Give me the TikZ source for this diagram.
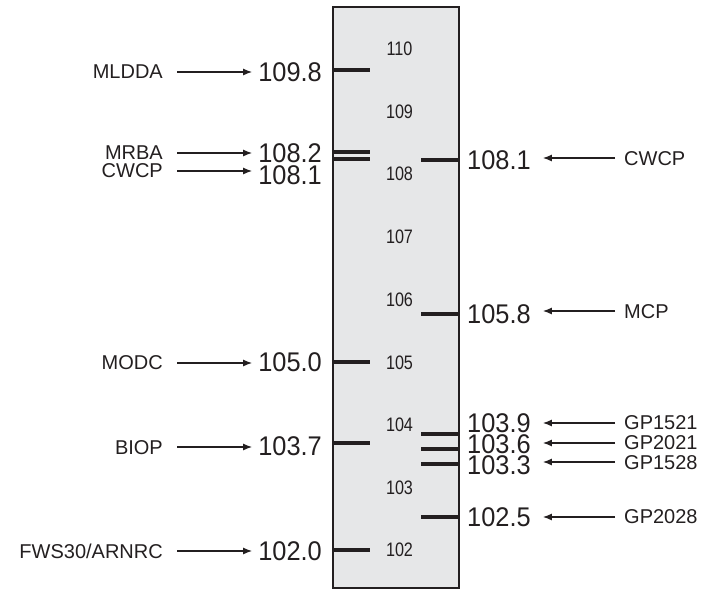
\documentclass[tikz,border=0pt]{standalone}
\usepackage{fontspec}
\usepackage{graphicx}
\setmainfont{Liberation Sans}
\usetikzlibrary{arrows.meta}
\definecolor{boxgray}{HTML}{E6E7E8}
\definecolor{ink}{HTML}{231F20}
\tikzset{
  txt/.style={inner sep=0pt, text depth=0pt, text=ink},
  lbl/.style={txt, font=\fontsize{20}{22}\selectfont},
  val/.style={txt, font=\fontsize{27}{29}\selectfont},
  scl/.style={txt, font=\fontsize{19.5}{21}\selectfont},
  tickln/.style={line width=3.4pt, draw=ink},
  arr/.style={-{Latex[length=9pt,width=7pt]}, line width=1.2pt, draw=ink},
}
\newcommand{\nv}[1]{\scalebox{0.94}[1]{#1}}
\newcommand{\ns}[1]{\scalebox{0.83}[1]{#1}}
\begin{document}
\begin{tikzpicture}[x=1pt,y=-1pt]
\useasboundingbox (0,0) rectangle (702,590);
% column
\draw[fill=boxgray, draw=ink, line width=1.5pt] (333,7) rectangle (459,588);
% scale labels
\node[scl] (s110) at (399.5,49) {\ns{110}};
\node[scl] (s109) at (399.5,112) {\ns{109}};
\node[scl] (s108) at (399.5,174) {\ns{108}};
\node[scl] (s107) at (399.5,237) {\ns{107}};
\node[scl] (s106) at (399.5,300) {\ns{106}};
\node[scl] (s105) at (399.5,363) {\ns{105}};
\node[scl] (s104) at (399.5,425) {\ns{104}};
\node[scl] (s103) at (399.5,488) {\ns{103}};
\node[scl] (s102) at (399.5,550) {\ns{102}};
% left ticks
\foreach \y in {70,152,159,362,443,550} \draw[tickln] (333,\y) -- (370,\y);
% right ticks
\foreach \y in {160,314,434,449,464,517} \draw[tickln] (421,\y) -- (459,\y);
% left labels
\node[lbl, anchor=east] (nMLDDA) at (163,72) {MLDDA};
\node[val, anchor=east] (vMLDDA) at (322,72) {\nv{109.8}};
\node[lbl, anchor=east] (nMRBA) at (163,153) {MRBA};
\node[val, anchor=east] (vMRBA) at (322,153) {\nv{108.2}};
\node[lbl, anchor=east] (nCWCPl) at (163,171) {CWCP};
\node[val, anchor=east] (vCWCPl) at (322,175) {\nv{108.1}};
\node[lbl, anchor=east] (nMODC) at (163,363) {MODC};
\node[val, anchor=east] (vMODC) at (322,362) {\nv{105.0}};
\node[lbl, anchor=east] (nBIOP) at (163,448) {BIOP};
\node[val, anchor=east] (vBIOP) at (322,446) {\nv{103.7}};
\node[lbl, anchor=east] (nFWS) at (163,551) {FWS30/ARNRC};
\node[val, anchor=east] (vFWS) at (322,551) {\nv{102.0}};
% left arrows
\foreach \n/\y in {MLDDA/72,MRBA/153,CWCPl/171,MODC/363,BIOP/447,FWS/551}
  \draw[arr] ([xshift=14pt]n\n.east |- 0,\y) -- ([xshift=-6pt]v\n.west |- 0,\y);
% right labels
\node[val, anchor=west] (vCWCPr) at (467,160) {\nv{108.1}};
\node[lbl, anchor=west] (nCWCPr) at (624,159) {CWCP};
\node[val, anchor=west] (vMCP) at (467,314) {\nv{105.8}};
\node[lbl, anchor=west] (nMCP) at (624,312) {MCP};
\node[val, anchor=west] (vGPa) at (467,423) {\nv{103.9}};
\node[lbl, anchor=west] (nGPa) at (624,423) {GP1521};
\node[val, anchor=west] (vGPb) at (467,444) {\nv{103.6}};
\node[lbl, anchor=west] (nGPb) at (624,443) {GP2021};
\node[val, anchor=west] (vGPc) at (467,465) {\nv{103.3}};
\node[lbl, anchor=west] (nGPc) at (624,463) {GP1528};
\node[val, anchor=west] (vGPd) at (467,517) {\nv{102.5}};
\node[lbl, anchor=west] (nGPd) at (624,517) {GP2028};
% right arrows
\foreach \n/\y in {CWCPr/158,MCP/311,GPa/423,GPb/443,GPc/462,GPd/517}
  \draw[arr] ([xshift=-9pt]n\n.west |- 0,\y) -- ([xshift=12pt]v\n.east |- 0,\y);
\end{tikzpicture}
\end{document}
